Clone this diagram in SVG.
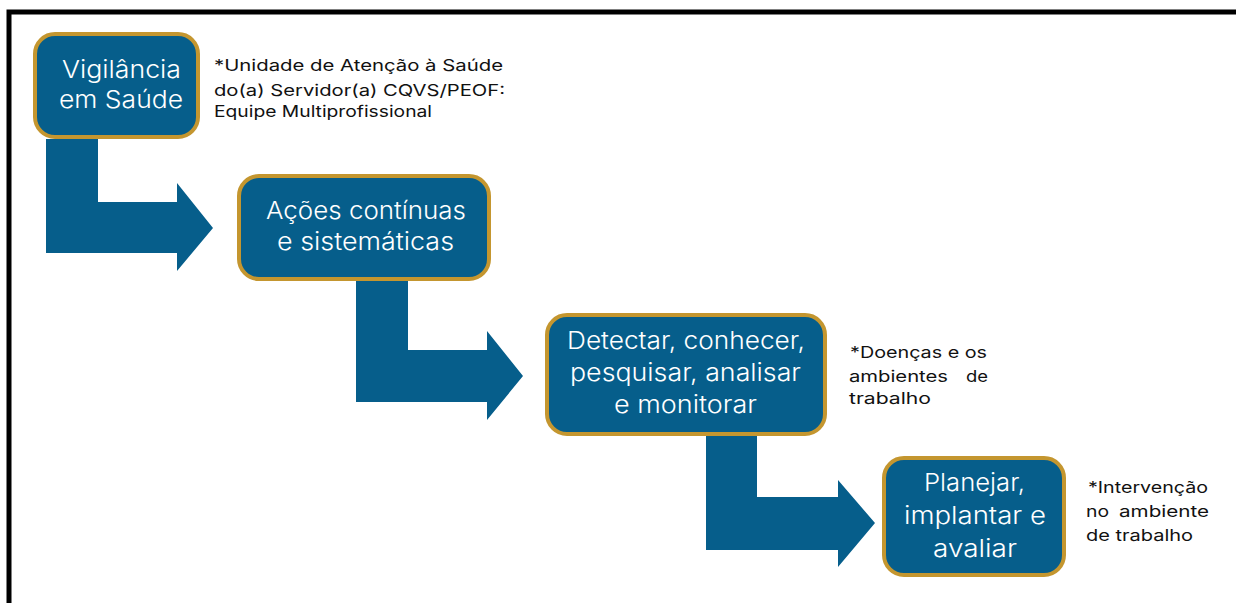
<svg xmlns="http://www.w3.org/2000/svg" width="1236" height="603" viewBox="0 0 1236 603">
<style>
.box{fill:#065E8B;stroke:#C4962F;stroke-width:4}
.arr{fill:#065E8B}
.bt{font-family:Inter,"Open Sans",sans-serif;fill:#fff;font-size:24px;font-weight:300}
.nt{font-family:Inter,"Open Sans",sans-serif;fill:#111;font-size:16px}
</style>
<rect x="0" y="0" width="1236" height="603" fill="#fff"/>
<path d="M9,603 V12 H1236" fill="none" stroke="#000" stroke-width="5"/>
<g id="connectors">
<path class="arr" d="M46,139 H98 V202 H177 V183 L213,228 L177,271 V253 H46 Z"/>
<path class="arr" d="M356,281 H408 V350 H487 V331 L523,376 L487,420 V402 H356 Z"/>
<path class="arr" d="M706,436 H757 V497 H838 V480 L875,523 L838,567 V550 H706 Z"/>
</g>
<g id="node1">
<rect class="box" x="35" y="34" width="163" height="103" rx="20"/>
<text class="bt" x="62" y="78" textLength="119" lengthAdjust="spacingAndGlyphs">Vigilância</text>
<text class="bt" x="59" y="108" textLength="124" lengthAdjust="spacingAndGlyphs">em Saúde</text>
</g>
<g id="note1">
<text class="nt" x="214" y="71" textLength="289" lengthAdjust="spacingAndGlyphs">*Unidade de Atenção à Saúde</text>
<text class="nt" x="214" y="96" textLength="291" lengthAdjust="spacingAndGlyphs">do(a) Servidor(a) CQVS/PEOF:</text>
<text class="nt" x="214" y="117" textLength="218" lengthAdjust="spacingAndGlyphs">Equipe Multiprofissional</text>
</g>
<g id="node2">
<rect class="box" x="239" y="176" width="250" height="103" rx="20"/>
<text class="bt" x="266" y="219" textLength="200" lengthAdjust="spacingAndGlyphs">Ações contínuas</text>
<text class="bt" x="277" y="250" textLength="177" lengthAdjust="spacingAndGlyphs">e sistemáticas</text>
</g>
<g id="node3">
<rect class="box" x="547" y="315" width="278" height="119" rx="20"/>
<text class="bt" x="567" y="349" textLength="238" lengthAdjust="spacingAndGlyphs">Detectar, conhecer,</text>
<text class="bt" x="570" y="381" textLength="231" lengthAdjust="spacingAndGlyphs">pesquisar, analisar</text>
<text class="bt" x="614" y="413" textLength="143" lengthAdjust="spacingAndGlyphs">e monitorar</text>
</g>
<g id="note3">
<text class="nt" x="850" y="358" textLength="137" lengthAdjust="spacingAndGlyphs">*Doenças e os</text>
<text class="nt" x="849" y="382" textLength="99" lengthAdjust="spacingAndGlyphs">ambientes</text>
<text class="nt" x="966" y="382" textLength="22" lengthAdjust="spacingAndGlyphs">de</text>
<text class="nt" x="849" y="404" textLength="82" lengthAdjust="spacingAndGlyphs">trabalho</text>
</g>
<g id="node4">
<rect class="box" x="884" y="458" width="180" height="117" rx="20"/>
<text class="bt" x="924" y="491" textLength="101" lengthAdjust="spacingAndGlyphs">Planejar,</text>
<text class="bt" x="904" y="524" textLength="142" lengthAdjust="spacingAndGlyphs">implantar e</text>
<text class="bt" x="933" y="557" textLength="84" lengthAdjust="spacingAndGlyphs">avaliar</text>
</g>
<g id="note4">
<text class="nt" x="1088" y="493" textLength="120" lengthAdjust="spacingAndGlyphs">*Intervenção</text>
<text class="nt" x="1086" y="517" textLength="23" lengthAdjust="spacingAndGlyphs">no</text>
<text class="nt" x="1119" y="517" textLength="90" lengthAdjust="spacingAndGlyphs">ambiente</text>
<text class="nt" x="1086" y="541" textLength="107" lengthAdjust="spacingAndGlyphs">de trabalho</text>
</g>
</svg>
